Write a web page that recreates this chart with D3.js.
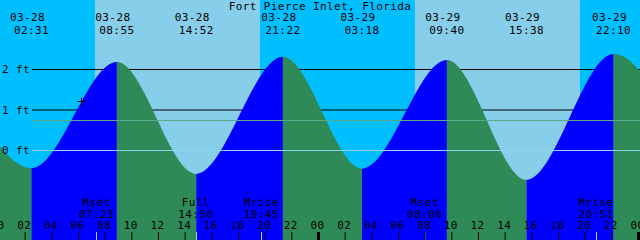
<!DOCTYPE html>
<html>
<head>
<meta charset="utf-8">
<script src="https://cdn.jsdelivr.net/npm/d3@7"></script>
<style>
  body { margin: 0; background: #fff; }
  svg { display: block; }
  text { font-family: "DejaVu Sans Mono", monospace; font-size: 11px; letter-spacing: 0.4px; fill: #000; }
</style>
</head>
<body>
<svg id="chart"></svg>
<script>
// Tide extremes (one before and one after the visible window so the curve runs off the edges)
const tideTimes = ['03-27 20:36', '03-28 02:31', '03-28 08:55', '03-28 14:52', '03-28 21:22',
                   '03-29 03:18', '03-29 09:40', '03-29 15:38', '03-29 22:10', '03-30 04:10'];
const tideHeights = [2.15, -0.45, 2.17, -0.59, 2.30, -0.46, 2.22, -0.74, 2.37, -0.55];

// Sun
const sunriseTimes = ['03-28 07:16', '03-29 07:16'];
const sunsetTimes = ['03-28 19:39', '03-29 19:39'];

// Moon events
const moonTimes = ['03-28 07:23', '03-28 14:50', '03-28 19:45', '03-29 08:00', '03-29 20:51'];
const moonLabels = ['Mset', 'Full', 'Mrise', 'Mset', 'Mrise'];

// Depth lines
const depthTicks = [0, 1, 2];
const mslLevel = 0.73;

const title = 'Fort Pierce Inlet, Florida';

class TideGraph {

  constructor(_config) {
    this.config = {
      parentElement: _config.parentElement,
      containerWidth: 640,
      containerHeight: 240,
      labelWidth: 32,
      nightColor: '#00bfff',
      dayColor: '#87ceeb',
      floodColor: '#0000ff',
      ebbColor: '#2e8b57',
      mslColor: '#5ba88c',
      datumColor: '#8fd3ee'
    };
    this.initVis();
  }

  initVis() {
    let vis = this;
    const parse = s => d3.utcParse('%Y-%m-%d %H:%M')('2024-' + s);
    vis.parse = parse;

    vis.svg = d3.select(vis.config.parentElement)
        .attr('width', vis.config.containerWidth)
        .attr('height', vis.config.containerHeight);

    vis.start = parse('03-28 00:00');
    vis.end = d3.utcHour.offset(vis.start, 48);

    // 2px offset of midnight, as in the original
    vis.x = d3.scaleUtc()
        .domain([vis.start, vis.end])
        .range([-2, 638]);

    vis.y = d3.scaleLinear()
        .domain([0, 2])
        .range([150, 69]);

    vis.tides = tideTimes.map((t, i) => ({ time: parse(t), height: tideHeights[i] }));

    vis.renderVis();
  }

  renderVis() {
    let vis = this;
    const W = vis.config.containerWidth, H = vis.config.containerHeight;

    // Sky: night background with day bands
    vis.svg.append('rect')
        .attr('width', W).attr('height', H)
        .attr('fill', vis.config.nightColor);

    vis.svg.selectAll('.day')
        .data(sunriseTimes.map((s, i) => [vis.parse(s), vis.parse(sunsetTimes[i])]))
      .join('rect')
        .attr('class', 'day')
        .attr('x', d => vis.x(d[0]))
        .attr('width', d => vis.x(d[1]) - vis.x(d[0]))
        .attr('y', 0).attr('height', H)
        .attr('fill', vis.config.dayColor);

    // Black depth lines behind the water
    vis.svg.selectAll('.depth')
        .data(depthTicks.filter(d => d > 0))
      .join('line')
        .attr('class', 'depth')
        .attr('x1', vis.config.labelWidth).attr('x2', W)
        .attr('y1', d => vis.y(d) + 0.5).attr('y2', d => vis.y(d) + 0.5)
        .attr('stroke', '#000');

    // Water area as clip
    const area = d3.area()
        .x(d => vis.x(d.time))
        .y0(H)
        .y1(d => vis.y(d.height))
        .curve(d3.curveMonotoneX);

    vis.svg.append('clipPath').attr('id', 'water')
      .append('path')
        .attr('d', area(vis.tides));

    const segments = d3.pairs(vis.tides);
    vis.svg.append('g')
        .attr('clip-path', 'url(#water)')
      .selectAll('rect')
        .data(segments)
      .join('rect')
        .attr('x', d => vis.x(d[0].time))
        .attr('width', d => vis.x(d[1].time) - vis.x(d[0].time))
        .attr('y', 0).attr('height', H)
        .attr('fill', d => d[1].height > d[0].height ? vis.config.floodColor : vis.config.ebbColor);

    // Mean sea level and datum lines over everything
    vis.svg.append('line')
        .attr('x1', vis.config.labelWidth).attr('x2', W)
        .attr('y1', Math.round(vis.y(mslLevel)) + 0.5).attr('y2', Math.round(vis.y(mslLevel)) + 0.5)
        .attr('stroke', vis.config.mslColor);

    vis.svg.append('line')
        .attr('x1', vis.config.labelWidth).attr('x2', W)
        .attr('y1', vis.y(0) + 0.5).attr('y2', vis.y(0) + 0.5)
        .attr('stroke', vis.config.datumColor);

    // Small cross marker
    const mark = vis.svg.append('g').attr('transform', 'translate(81.5,101.5)');
    mark.append('line').attr('x1', -4).attr('x2', 4).attr('stroke', '#000');
    mark.append('line').attr('y1', -4).attr('y2', 4).attr('stroke', '#000');

    // Depth labels
    vis.svg.selectAll('.depth-label')
        .data(depthTicks)
      .join('text')
        .attr('class', 'depth-label')
        .attr('x', 2)
        .attr('y', d => vis.y(d) + 4)
        .text(d => `${d} ft`);

    // Title
    vis.svg.append('text')
        .attr('x', W / 2)
        .attr('y', 10)
        .attr('text-anchor', 'middle')
        .text(title);

    // Tide extreme labels along the top
    const visible = vis.tides.filter(d => d.time >= vis.start && d.time <= vis.end);
    const top = vis.svg.selectAll('.ext')
        .data(visible)
      .join('g')
        .attr('class', 'ext')
        .attr('transform', d => `translate(${vis.x(d.time)},0)`);
    top.append('text')
        .attr('x', -4).attr('y', 21)
        .attr('text-anchor', 'middle')
        .text(d => d3.utcFormat('%m-%d')(d.time));
    top.append('text')
        .attr('x', 0).attr('y', 34)
        .attr('text-anchor', 'middle')
        .text(d => d3.utcFormat('%H:%M')(d.time));

    // Moon events
    const moon = vis.svg.selectAll('.moon')
        .data(moonTimes.map((t, i) => ({ time: vis.parse(t), label: moonLabels[i] })))
      .join('g')
        .attr('class', 'moon')
        .attr('transform', d => `translate(${vis.x(d.time)},0)`);
    moon.append('text')
        .attr('y', 206).attr('text-anchor', 'middle')
        .text(d => d.label);
    moon.append('text')
        .attr('y', 218).attr('text-anchor', 'middle')
        .text(d => d3.utcFormat('%H:%M')(d.time));
    moon.append('line')
        .attr('x1', d => Math.round(vis.x(d.time)) - vis.x(d.time) + 0.5)
        .attr('x2', d => Math.round(vis.x(d.time)) - vis.x(d.time) + 0.5)
        .attr('y1', 232).attr('y2', H)
        .attr('stroke', '#a6d0c4');

    // Hour axis along the bottom
    const axis = d3.axisTop(vis.x)
        .ticks(d3.utcHour.every(2))
        .tickSize(8)
        .tickPadding(3)
        .tickFormat(d3.utcFormat('%H'));

    const axisG = vis.svg.append('g')
        .attr('transform', `translate(0,${H})`)
        .call(axis);
    axisG.select('.domain').remove();
    axisG.selectAll('.tick text')
        .attr('font-family', null).attr('font-size', null)
        .attr('x', -1)
        .style('fill', '#000');
    axisG.selectAll('.tick line')
        .attr('stroke', '#000')
        .attr('stroke-width', d => d.getUTCHours() === 0 ? 3 : 1);
  }
}

new TideGraph({ parentElement: '#chart' });
</script>
</body>
</html>
